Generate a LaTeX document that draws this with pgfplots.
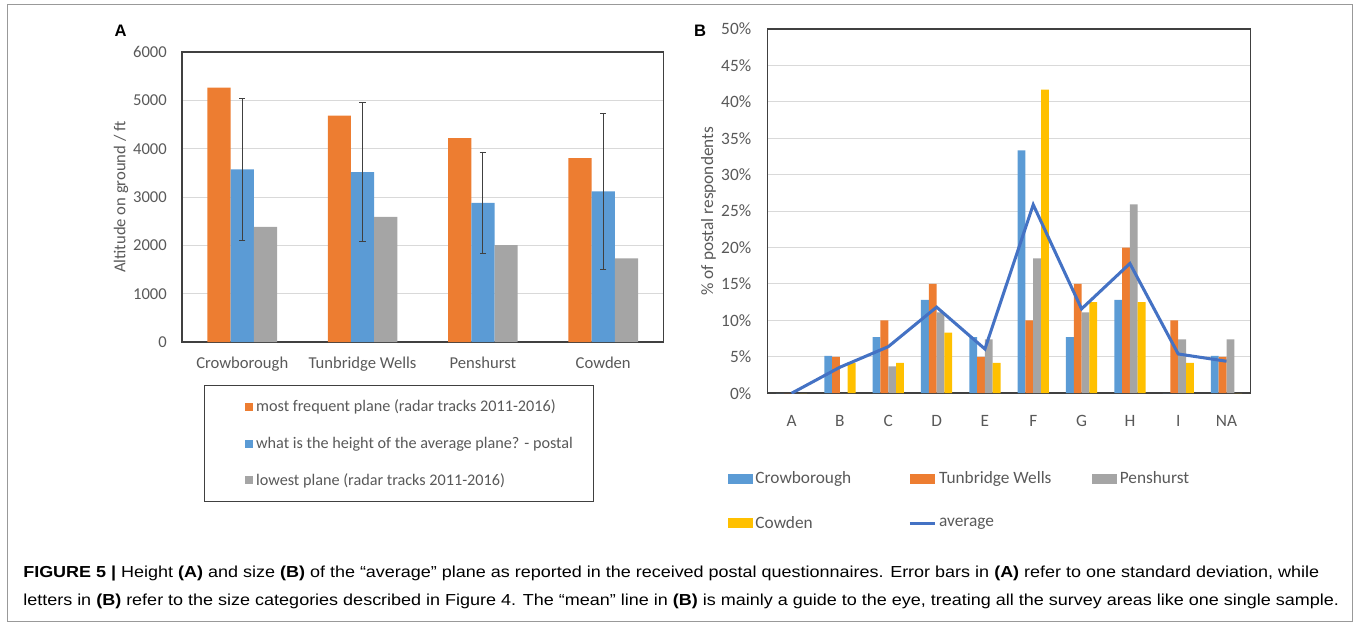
\documentclass[border=0pt]{standalone}
\usepackage{pgfplots}
\pgfplotsset{compat=1.18}
\usepackage{fontspec}
\usepackage{graphicx}
\setmainfont{Carlito}
\newfontfamily\capfont{Liberation Sans}

\definecolor{cOrange}{HTML}{ED7D31}
\definecolor{cBlue}{HTML}{5B9BD5}
\definecolor{cGray}{HTML}{A5A5A5}
\definecolor{cYellow}{HTML}{FFC000}
\definecolor{cAvg}{HTML}{4472C4}
\definecolor{txt}{HTML}{595959}
\definecolor{gridc}{HTML}{D9D9D9}
\definecolor{framec}{HTML}{404040}

\pgfplotsset{
  excel/.style={
    scale only axis,
    major tick length=0pt,
    ymajorgrids,
    grid style={color=gridc, line width=0.72pt},
    axis line style={color=framec, line width=1.1pt},
    tick label style={text=txt},
    ylabel style={text=txt},
    /pgf/number format/assume math mode=true,
  },
  legsqA/.style={legend image code/.code={\path (-0.3in,0in); \fill[##1, draw=none] (0in,-0.04in) rectangle (0.08in,0.04in);}},
  legbarB/.style={legend image code/.code={\fill[##1, draw=none] (0in,-0.05in) rectangle (0.25in,0.05in);}},
  leglineB/.style={legend image code/.code={\draw[##1] (0in,0in) -- (0.25in,0in);}},
}

\begin{document}
\begin{tikzpicture}[x=0.01in, y=-0.01in]
\path[use as bounding box] (0,0) rectangle (1358,621);
\draw[color=gray!80, line width=0.7pt] (7,4.5) rectangle (1352,621);

\node[font=\capfont\bfseries\fontsize{12}{14}\selectfont] at (120.5,31) {A};
\node[font=\capfont\bfseries\fontsize{12}{14}\selectfont] at (700,31) {B};

% panel A
\begin{axis}[
  excel,
  at={(1.82in,-3.42in)}, anchor=south west,
  width=4.81in, height=2.90in,
  xmin=-0.5, xmax=3.5, ymin=0, ymax=6000,
  ytick={0,1000,...,6000},
  tick label style={font=\fontsize{12}{14.4}\selectfont},
  yticklabel style={/pgf/number format/1000 sep={}, anchor=east, inner sep=0pt, xshift=-0.15in},
  xtick={0,1,2,3},
  xticklabels={Crowborough, Tunbridge Wells, Penshurst, Cowden},
  xticklabel style={anchor=north, inner sep=0pt, yshift=-0.14in},
  ylabel={Altitude on ground / ft},
  ylabel style={font=\fontsize{12}{14.4}\selectfont, at={(axis description cs:-0.127,0.5)}, anchor=center},
  legsqA,
  legend style={at={(axis description cs:0.4501,-0.1483)}, anchor=north,
    draw=framec, line width=0.8pt, inner xsep=0.11in, inner ysep=0.115in,
    row sep=0.175in, font=\fontsize{11.7}{14}\selectfont, text=txt,
    cells={anchor=west}},
]
\addplot[ybar, bar width=0.232in, bar shift=-0.232in, fill=cOrange, draw=none]
  coordinates {(0,5262) (1,4683) (2,4221) (3,3807)};
\addlegendentry{\makebox[3.23in][l]{most frequent plane (radar tracks 2011-2016)}}
\addplot[ybar, bar width=0.232in, bar shift=0in, fill=cBlue, draw=none,
  error bars/.cd, y dir=both, y explicit,
  error bar style={color=framec, line width=0.7pt},
  error mark options={rotate=90, mark size=0.032in, line width=0.7pt, color=framec}]
  coordinates {(0,3572) +- (0,1465) (1,3517) +- (0,1440) (2,2883) +- (0,1050) (3,3117) +- (0,1610)};
\addlegendentry{\makebox[3.23in][l]{what is the height of the average plane? - postal}}
\addplot[ybar, bar width=0.232in, bar shift=0.232in, fill=cGray, draw=none]
  coordinates {(0,2386) (1,2593) (2,2007) (3,1731)};
\addlegendentry{\makebox[3.23in][l]{lowest plane (radar tracks 2011-2016)}}
\end{axis}

% panel B
\begin{axis}[
  excel,
  at={(7.67in,-3.93in)}, anchor=south west,
  width=4.83in, height=3.64in,
  xmin=-0.5, xmax=9.5, ymin=0, ymax=50,
  ytick={0,5,...,50},
  tick label style={font=\fontsize{12.5}{15}\selectfont},
  yticklabel={\pgfmathprintnumber{\tick}\%},
  yticklabel style={anchor=east, inner sep=0pt, xshift=-0.16in},
  xtick={0,...,9},
  xticklabels={A,B,C,D,E,F,G,H,I,NA},
  xticklabel style={anchor=north, inner sep=0pt, yshift=-0.22in},
  ylabel={\% of postal respondents},
  ylabel style={font=\fontsize{12.5}{15}\selectfont, at={(axis description cs:-0.122,0.5)}, anchor=center},
  legend columns=3,
  legbarB,
  legend style={at={(axis description cs:-0.0828,-0.207)}, anchor=north west,
    draw=none, fill=none, inner sep=0pt, row sep=0.25in,
    font=\fontsize{12.5}{15}\selectfont, text=txt, cells={anchor=west}},
]
\addplot[ybar, bar width=0.078in, bar shift=-0.117in, fill=cBlue, draw=none]
  coordinates {(0,0) (1,5.13) (2,7.69) (3,12.82) (4,7.69) (5,33.33) (6,7.69) (7,12.82) (8,0) (9,5.13)};
\addlegendentry{\makebox[1.5in][l]{Crowborough}}
\addplot[ybar, bar width=0.078in, bar shift=-0.039in, fill=cOrange, draw=none]
  coordinates {(0,0) (1,5) (2,10) (3,15) (4,5) (5,10) (6,15) (7,20) (8,10) (9,5)};
\addlegendentry{\makebox[1.5in][l]{Tunbridge Wells}}
\addplot[ybar, bar width=0.078in, bar shift=0.039in, fill=cGray, draw=none]
  coordinates {(0,0) (1,0) (2,3.70) (3,11.11) (4,7.41) (5,18.52) (6,11.11) (7,25.93) (8,7.41) (9,7.41)};
\addlegendentry{Penshurst}
\addplot[ybar, bar width=0.078in, bar shift=0.117in, fill=cYellow, draw=none]
  coordinates {(0,0) (1,4.17) (2,4.17) (3,8.33) (4,4.17) (5,41.67) (6,12.5) (7,12.5) (8,4.17) (9,0)};
\addlegendentry{\makebox[1.5in][l]{Cowden}}
\addplot[sharp plot, color=cAvg, line width=2.2pt, mark=none, leglineB]
  coordinates {(0,0) (1,3.57) (2,6.39) (3,11.82) (4,6.07) (5,25.88) (6,11.58) (7,17.81) (8,5.39) (9,4.39)};
\addlegendentry{\makebox[1.5in][l]{average}}
\end{axis}

\node[anchor=west, inner sep=0pt] at (23,573) {\resizebox{12.95in}{\height}{\capfont\fontsize{11.5}{14}\selectfont
  \textbf{FIGURE 5 |} Height \textbf{(A)} and size \textbf{(B)} of the “average” plane as reported in the received postal questionnaires. Error bars in \textbf{(A)} refer to one standard deviation, while}};
\node[anchor=west, inner sep=0pt] at (23,601) {\resizebox{13.15in}{\height}{\capfont\fontsize{11.5}{14}\selectfont
  letters in \textbf{(B)} refer to the size categories described in Figure 4. The “mean” line in \textbf{(B)} is mainly a guide to the eye, treating all the survey areas like one single sample.}};
\end{tikzpicture}
\end{document}
